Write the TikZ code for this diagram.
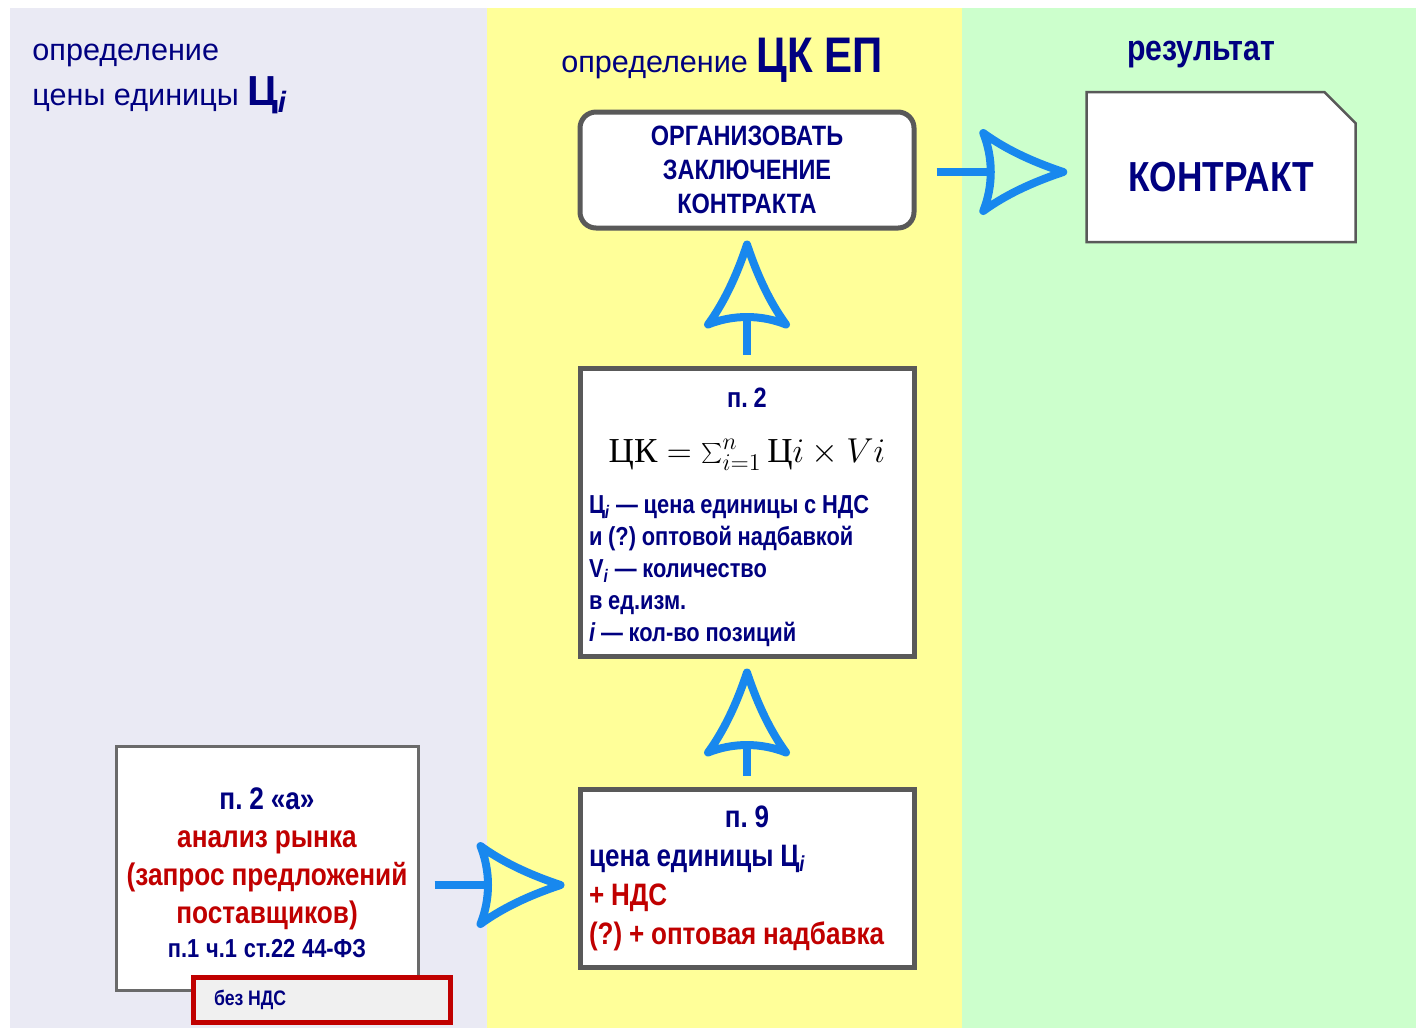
\documentclass[tikz,border=0pt]{standalone}
\usepackage[no-math]{fontspec}
\setmainfont{Liberation Sans}
\newfontfamily\narrowfont[FakeStretch=0.84]{Liberation Sans}
\newfontfamily\formulafont{Liberation Serif}
\usetikzlibrary{calc,shapes.misc}
\definecolor{bgleft}{RGB}{234,234,244}
\definecolor{bgmid}{RGB}{255,255,153}
\definecolor{bgright}{RGB}{204,255,204}
\definecolor{navy}{RGB}{0,0,128}
\definecolor{darkred}{RGB}{192,0,0}
\definecolor{boxgray}{RGB}{89,89,89}
\definecolor{ndsgray}{RGB}{240,240,240}
\definecolor{arrowblue}{RGB}{24,136,238}
\frenchspacing
% narrow bold face
\newcommand\boxfont[2]{\narrowfont\bfseries\fontsize{#1}{#2}\selectfont}

\tikzset{
  link/.style={draw=arrowblue, line width=4pt},
  arrowhead/.pic={
    \draw[link, line join=round] (0,0) .. controls (-24,-8) and (-54,-20) .. (-80,-39)
      .. controls (-70,-14) and (-70,14) .. (-80,39)
      .. controls (-54,20) and (-24,8) .. (0,0) -- cycle;
  },
  tight/.style={execute at begin node={\spaceskip=0.22em\xspaceskip=0.22em\relax}},
  box/.style={draw=boxgray, line width=2.5pt, fill=white, minimum width=167pt, inner sep=0pt,
    text=navy, tight}
}

\begin{document}
\begin{tikzpicture}[x=0.5pt, y=-0.5pt]
  \useasboundingbox (0,0) rectangle (1416,1030);
  \fill[white] (0,0) rectangle (1416,1030);
  % three columns
  \fill[bgleft] (10,8) rectangle (487,1028);
  \fill[bgmid] (487,8) rectangle (962,1028);
  \fill[bgright] (962,8) rectangle (1416,1028);

  % titles
  \node[anchor=base west, inner sep=0pt, text=navy, font=\fontsize{15.3}{18}\selectfont] (lefttitle) at (32,60) {определение};
  \node[anchor=base west, inner sep=0pt, text=navy, font=\fontsize{15.3}{18}\selectfont] (lefttitleb) at (32,105)
    {цены единицы {\bfseries\fontsize{21}{24}\selectfont Ц\textsubscript{\textit{i}}}};
  \node[anchor=base, inner sep=0pt, text=navy, font=\fontsize{15.3}{18}\selectfont] (midtitle) at (722,72)
    {определение {\boxfont{25}{28}ЦК ЕП}};
  \node[anchor=base, inner sep=0pt, text=navy, font=\boxfont{18}{20}] (righttitle) at (1201,60) {результат};

  % boxes
  \node[box, rounded corners=8pt, minimum height=58pt, text width=160pt, align=center, font=\boxfont{14}{17}]
    (organize) at (747,170) {ОРГАНИЗОВАТЬ\\ЗАКЛЮЧЕНИЕ\\КОНТРАКТА};
  \node[draw=boxgray, line width=1.25pt, fill=white, chamfered rectangle, chamfered rectangle corners=north east,
    chamfered rectangle xsep=13pt, minimum width=134.5pt, minimum height=75pt, inner sep=0pt, text=navy,
    text height=24pt, text depth=0pt, font=\boxfont{21}{24}] (contract) at (1221,167) {КОНТРАКТ};

  \node[box, minimum height=144pt, text width=158pt, align=left, font=\boxfont{13}{16}]
    (calcbox) at (747,512) {\makebox[\linewidth]{\rule{0pt}{15pt}\fontsize{14}{16}\selectfont п. 2}\\[11.5pt]
    \makebox[\linewidth]{\normalfont\fontsize{17.5}{18}\selectfont\color{black}\formulafont ЦК$\;=\sum_{i=1}^{n}$\,Ц$i\times Vi$}\\[9.5pt]
    Ц\textsubscript{\textit{i}} — цена единицы с НДС\\
    и (?) оптовой надбавкой\\
    V\textsubscript{\textit{i}} — количество\\
    в ед.изм.\\
    \textit{i} — кол-во позиций};

  \node[box, minimum height=89pt, text width=158pt, align=left, font=\boxfont{15.5}{19.5}]
    (pricebox) at (747,878) {\makebox[\linewidth]{п. 9}\\
    цена единицы Ц\textsubscript{\textit{i}}\\
    \textcolor{darkred}{+ НДС}\\
    \textcolor{darkred}{(?) + оптовая надбавка}};

  \node[box, draw=boxgray!90, line width=1.5pt, minimum width=151pt, minimum height=122pt, text width=148pt, align=center,
    text=darkred, font=\boxfont{15.6}{19}]
    (marketbox) at (267,868) {\rule{0pt}{15.5pt}\textcolor{navy}{п. 2 «а»}\\
    анализ рынка\\
    (запрос предложений\\
    поставщиков)\\[-2pt]
    {\fontsize{13}{15}\selectfont\color{navy}п.1 ч.1 ст.22 44-ФЗ}};

  \node[draw=darkred, line width=2.5pt, fill=ndsgray, minimum width=128.5pt, minimum height=22.5pt, inner xsep=10.5pt,
    text width=107.5pt, align=left, text=navy, tight, font=\boxfont{10.5}{12}]
    (nds) at (321.5,999.5) {без НДС};

  % arrows
  \draw[link] ($(pricebox.north)+(0,-11)$) -- ($(calcbox.south)+(0,86)$);
  \pic[rotate=90] at ($(calcbox.south)+(0,14)$) {arrowhead};
  \draw[link] ($(calcbox.north)+(0,-11)$) -- ($(organize.south)+(0,86)$);
  \pic[rotate=90] at ($(organize.south)+(0,14)$) {arrowhead};
  \draw[link] ($(organize.east)+(20,2)$) -- ($(contract.west |- organize.east)+(-94,2)$);
  \pic at ($(contract.west |- organize.east)+(-22,2)$) {arrowhead};
  \draw[link] ($(marketbox.east)+(15,17)$) -- ($(pricebox.west)+(-89,7)$);
  \pic at ($(pricebox.west)+(-17,7)$) {arrowhead};
\end{tikzpicture}
\end{document}
